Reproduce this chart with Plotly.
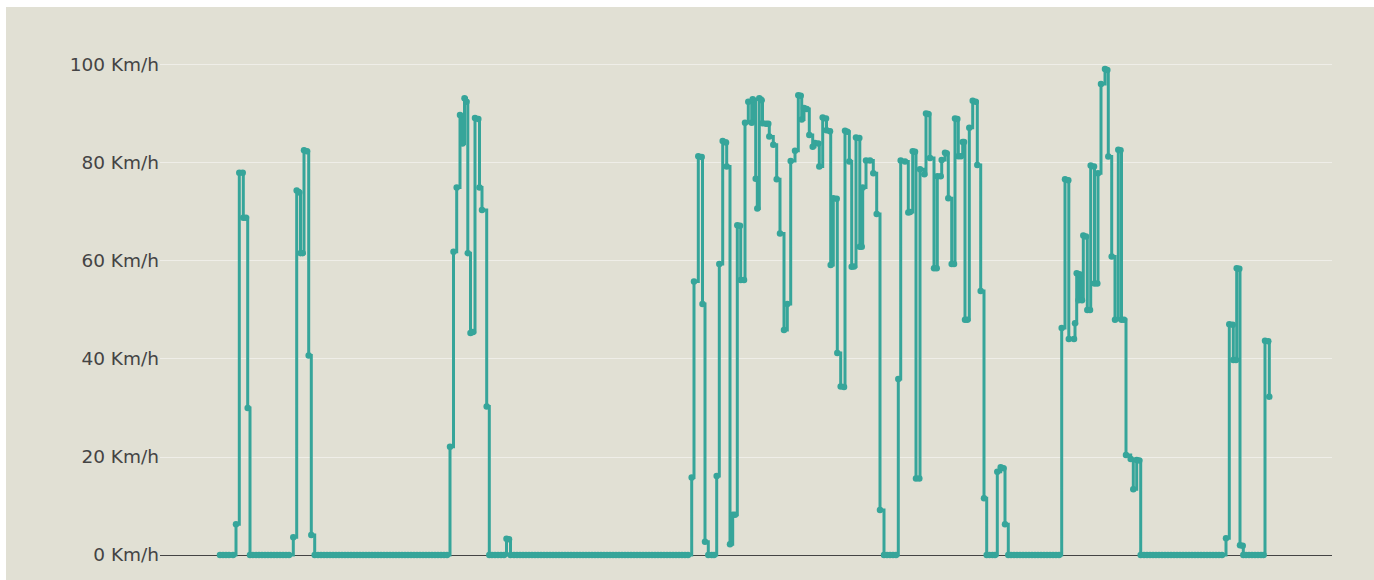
import plotly.graph_objects as go

# Elapsed time (arbitrary seconds-like units) and speed (Km/h)
elapsed = [
    0, 3, 6, 9, 13, 16, 19.3, 22.7, 23.3, 26, 27.7, 30,
    33, 36, 39, 42, 45, 48, 51, 54, 57, 60, 63, 66, 69,
    73.3, 76.7, 79.3, 80.5, 82.7, 84, 87, 88.7, 91.3, 94.7,
    98, 101, 104, 107, 110, 113, 116, 119, 122, 125, 128, 131, 134, 137, 140,
    143, 146, 149, 152, 155, 158, 161, 164, 167, 170, 173, 176, 179, 182, 185,
    188, 191, 194, 197, 200, 203, 206, 209, 212, 215, 218, 221, 224, 227,
    230, 233.5, 236.7, 240, 242.5, 244.5, 246.5, 247.8, 250.5, 253, 255, 258.3,
    259.5, 262, 266.7, 269.3,
    272, 275, 278, 281, 284, 286.5, 289, 290.5,
    294, 297, 300, 303, 306, 309, 312, 315, 318, 321, 324, 327, 330, 333, 336,
    339, 342, 345, 348, 351, 354, 357, 360, 363, 366, 369, 372, 375, 378, 381,
    384, 387, 390, 393, 396, 399, 402, 405, 408, 411, 414, 417, 420, 423, 426,
    429, 432, 435, 438, 441, 444, 447, 450, 453, 456, 459, 462, 465, 468,
    471.7, 474, 478.3, 481.7, 482.5, 485, 488.3, 491.7, 494, 496.7, 499.3, 502.7,
    506, 506.7, 510, 512.7, 515, 517.3, 520, 520.7, 524, 525, 528.3, 531.7, 532.7,
    535.7, 537.3, 539.3, 541.7, 542.5, 546, 548.3, 549.3, 553.3, 556.7, 560, 564,
    567.3, 570.7, 575, 578.3, 580.7, 581.7, 584, 586.7, 589.3, 592.7, 595, 598.3, 599.3,
    602.7, 606, 606.5, 610, 610.7, 613.3, 616.7, 617.3, 620.7, 624, 625, 627.3,
    629.3, 631.7, 634, 636, 639.3, 639.8, 641.7, 642.7, 646, 650, 653.3, 656.7, 660,
    664, 667, 670, 673, 676,
    678.3, 680.7, 685, 688.3, 690, 692.7, 695, 696, 699.3, 700, 704.3, 706, 708.3,
    710, 714, 716.7, 717.3, 720.7, 721.7, 725, 726.5, 728.3, 731.7, 734, 735, 737.3,
    738.3, 741, 742.7, 744, 745, 747.3, 749.3, 752.7, 755.7, 757.3, 760.7, 764,
    766.7, 769.5, 772.5, 775, 777.3, 780.7, 783.5, 785, 788.3,
    791, 794, 797, 800, 803, 806, 809, 812, 815, 818, 821, 824, 827, 830, 833, 836, 839,
    841.7, 845, 848.3, 848.8, 854, 855, 856.7, 858.5, 859.5, 862, 863.3, 866, 867.3,
    870, 870.7, 874, 874.5, 877.3, 878, 881, 885, 887.3, 888.3, 891.7, 895, 898.3,
    900.5, 901.5, 904, 906, 910.7, 913.3, 916.7, 919.3, 920.7,
    924, 927, 930, 933, 936, 939, 942, 945, 948, 951, 954, 957, 960, 963, 966, 969,
    972, 975, 978, 981, 984, 987, 990, 993, 996, 999, 1002,
    1006, 1009.3, 1012.7, 1013.3, 1016, 1016.7, 1019.3, 1020, 1022.7, 1023.3,
    1026, 1029, 1032, 1035, 1038, 1041, 1043.5, 1045, 1048.3, 1049.3,
]

speed = [
    0, 0, 0, 0, 0, 6.3, 78, 78, 68.8, 68.8, 30, 0,
    0, 0, 0, 0, 0, 0, 0, 0, 0, 0, 0, 0, 0,
    3.6, 74.4, 74.0, 61.6, 61.6, 82.6, 82.4, 40.7, 4.1, 0,
    0, 0, 0, 0, 0, 0, 0, 0, 0, 0, 0, 0, 0, 0, 0,
    0, 0, 0, 0, 0, 0, 0, 0, 0, 0, 0, 0, 0, 0, 0,
    0, 0, 0, 0, 0, 0, 0, 0, 0, 0, 0, 0, 0, 0,
    22.1, 61.9, 75, 89.8, 84, 93.2, 92.5, 61.6, 45.3, 45.5, 89.2, 89,
    75, 70.4, 30.3, 0,
    0, 0, 0, 0, 0, 3.3, 3.2, 0,
    0, 0, 0, 0, 0, 0, 0, 0, 0, 0, 0, 0, 0, 0, 0,
    0, 0, 0, 0, 0, 0, 0, 0, 0, 0, 0, 0, 0, 0, 0,
    0, 0, 0, 0, 0, 0, 0, 0, 0, 0, 0, 0, 0, 0, 0,
    0, 0, 0, 0, 0, 0, 0, 0, 0, 0, 0, 0, 0, 0,
    15.8, 55.8, 81.4, 81.2, 51.2, 2.7, 0, 0, 0, 16.1, 59.4, 84.5,
    84.2, 79.3, 2.2, 8.2, 8.2, 67.3, 67.2, 56.1, 56.1, 88.2, 92.5, 88.2, 93,
    76.8, 70.7, 93.2, 92.8, 88.1, 88, 88, 85.4, 83.7, 76.7, 65.6, 45.9,
    51.2, 80.4, 82.5, 93.8, 93.7, 88.9, 91.2, 91, 85.7, 83.3, 84.1, 84, 79.3,
    89.3, 89.1, 86.7, 86.5, 59.2, 72.8, 72.7, 41.2, 34.4, 34.3, 86.6, 86.4,
    80.3, 58.8, 58.9, 85.2, 85.1, 62.9, 62.9, 75, 80.5, 80.5, 77.9, 69.6, 9.2,
    0, 0, 0, 0, 0,
    35.9, 80.5, 80.3, 69.9, 70, 82.4, 82.3, 15.6, 15.6, 78.7, 77.7, 90.1, 90,
    81, 58.5, 58.5, 77.3, 77.3, 80.6, 82.1, 82, 72.8, 59.4, 59.4, 89.1, 89,
    81.4, 81.4, 84.3, 84.3, 48, 48, 87.2, 92.7, 92.5, 79.6, 53.9, 11.6,
    0, 0, 0, 0, 17.0, 17.9, 17.7, 6.3, 0,
    0, 0, 0, 0, 0, 0, 0, 0, 0, 0, 0, 0, 0, 0, 0, 0, 0,
    46.3, 76.7, 76.5, 44.1, 44.1, 47.3, 57.5, 52, 57.3, 52, 65.2, 65, 50,
    50, 79.5, 79.3, 55.4, 55.4, 77.9, 96.1, 99.2, 99, 81.3, 60.9, 48, 82.7,
    82.6, 48, 48, 20.4, 19.6, 13.4, 19.4, 19.3, 0,
    0, 0, 0, 0, 0, 0, 0, 0, 0, 0, 0, 0, 0, 0, 0, 0,
    0, 0, 0, 0, 0, 0, 0, 0, 0, 0, 0,
    3.4, 47.1, 47, 39.8, 39.8, 58.5, 58.4, 2.0, 1.9, 0,
    0, 0, 0, 0, 0, 0, 0, 43.7, 43.6, 32.3,
]

y_ticks = [0, 20, 40, 60, 80, 100]
y_tick_labels = [f"{v} Km/h" for v in y_ticks]

LINE_COLOR = "#36a59a"
BG = "#e1e0d4"

fig = go.Figure(
    go.Scatter(
        x=elapsed,
        y=speed,
        mode="lines+markers",
        line=dict(shape="hv", color=LINE_COLOR, width=3),
        marker=dict(size=6.5, color=LINE_COLOR),
        hoverinfo="skip",
    )
)

fig.update_layout(
    width=1368,
    height=573,
    margin=dict(l=154, r=42, t=40, b=17),
    paper_bgcolor=BG,
    plot_bgcolor=BG,
    showlegend=False,
    font=dict(family="DejaVu Sans, Verdana, sans-serif", size=18.5, color="#444444"),
    xaxis=dict(
        range=[-60, 1112],
        showgrid=False,
        zeroline=False,
        showticklabels=False,
        ticks="",
        showline=False,
    ),
    yaxis=dict(
        range=[-1.633, 103.67],
        tickvals=y_ticks,
        ticktext=y_tick_labels,
        showgrid=True,
        gridcolor="#efeee8",
        gridwidth=1,
        zeroline=True,
        zerolinecolor="#444444",
        zerolinewidth=1,
        ticks="",
        showline=False,
    ),
)

fig.write_html(
    "out.html",
    post_script=(
        "document.body.style.margin='7px 0 0 6px';"
        "document.documentElement.style.overflow='hidden';"
        "document.body.style.overflow='hidden';"
    ),
)
